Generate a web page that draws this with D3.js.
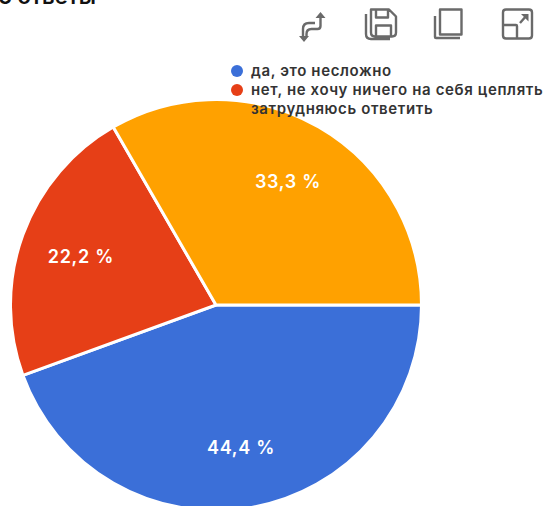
<!DOCTYPE html>
<html><head><meta charset="utf-8">
<script src="https://cdn.jsdelivr.net/npm/d3@7"></script>
<style>html,body{margin:0;background:#fff}svg{display:block}text{font-family:Inter,"Noto Sans",sans-serif}</style>
</head><body><svg id="c" width="546" height="506"></svg>
<script>
const categories = ["да, это несложно", "нет, не хочу ничего на себя цеплять", "затрудняюсь ответить"];
const values = [44.4, 22.2, 33.3];
const colors = ["#3b6fd8", "#e63f17", "#ffa100"];
const valueLabels = ["44,4 %", "22,2 %", "33,3 %"];
const headline = "6 ответы";

const svg = d3.select("#c");
const cx = 216, cy = 305, radius = 205.5;

svg.append("text").attr("x", -2).attr("y", 4).attr("font-size", 22).attr("font-weight", 600).attr("fill", "#111").text(headline);

const pie = d3.pie().sort(null).value(d => d)
  .startAngle(Math.PI / 2).endAngle(Math.PI * 2.5);
const arcs = pie(values);
const arc = d3.arc().innerRadius(0).outerRadius(radius);
const labelArc = d3.arc().innerRadius(radius * 0.7).outerRadius(radius * 0.7);
const g = svg.append("g").attr("transform", `translate(${cx},${cy})`);

g.selectAll("path").data(arcs).join("path")
  .attr("d", arc).attr("fill", (d, i) => colors[i])
  .attr("stroke", "#fff").attr("stroke-width", 3);

g.selectAll("text").data(arcs).join("text")
  .attr("transform", d => `translate(${labelArc.centroid(d)})`)
  .attr("text-anchor", "middle").attr("dy", "0.4em")
  .attr("fill", "#fff").attr("font-size", 18).attr("font-weight", 600).attr("letter-spacing", 0.7)
  .text((d, i) => valueLabels[i]);

// legend sits over the pie, with no marker on its third row
const legendY = d3.scalePoint().domain(categories).range([71, 109]);
const legend = svg.append("g");
legend.selectAll("circle").data(categories.slice(0, 2)).join("circle")
  .attr("cx", 237).attr("cy", d => legendY(d)).attr("r", 6)
  .attr("fill", (d, i) => colors[i]);
legend.selectAll("text").data(categories).join("text")
  .attr("x", 251).attr("y", d => legendY(d)).attr("dy", "0.35em")
  .attr("font-size", 15).attr("font-weight", 600).attr("letter-spacing", 0.62).attr("fill", "#333")
  .text(d => d);

// toolbar icons
const icons = svg.append("g").attr("fill", "none").attr("stroke", "#6a6a6a").attr("stroke-width", 2.4).attr("stroke-linejoin", "round");
icons.append("path").attr("d", "M320.5 18v8q0 3-3 3h-6q-5 0-5 5v3M315 23h-6q-6 0-6 6v8");
icons.append("path").attr("fill", "#6a6a6a").attr("stroke", "none").attr("d", "M320.5 12l5 6h-10zM299 36h10l-5 6z");
icons.append("path").attr("d", "M371 9.500h18l7 7v16q0 4-4 4h-17q-4 0-4-4z M376 9.500v8h12v-8 M376 36.500v-11h15v11 M366 14v20q0 5 5 5h19");
icons.append("path").attr("d", "M440 9.500h21.500v25h-21.500z M435 16v21q0 1 1 1h24");
icons.append("path").attr("d", "M506 9.500h23q3 0 3 3v23q0 3-3 3h-23q-3 0-3-3v-23q0-3 3-3z M503 25h13q1 0 1 1v12 M520 23l7-8");
icons.append("path").attr("fill", "#6a6a6a").attr("stroke", "none").attr("d", "M521 14h7.500v7.500z");
</script></body></html>
